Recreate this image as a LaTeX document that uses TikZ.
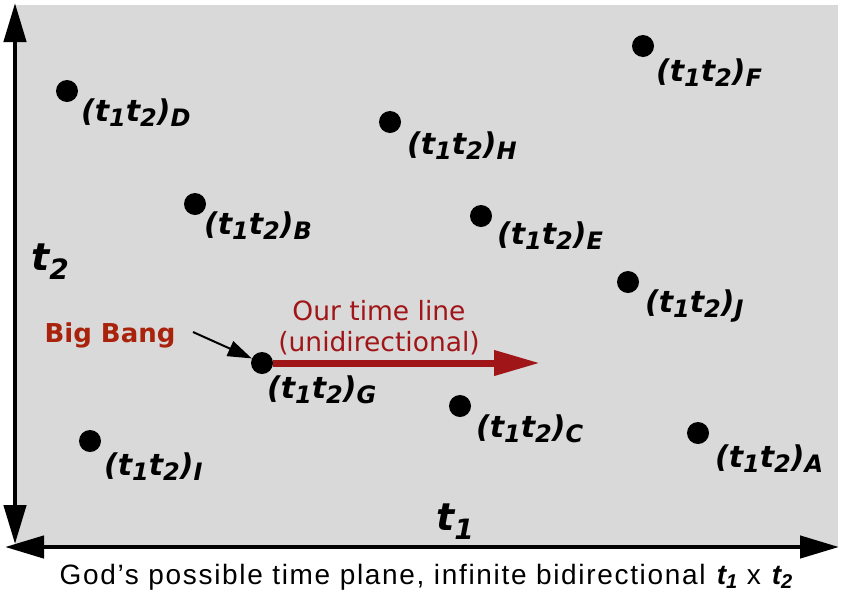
\documentclass[tikz,border=0pt]{standalone}
\usepackage{fontspec}
\setmainfont{DejaVu Sans}
\newfontfamily\capfont[LetterSpace=6]{Liberation Sans}
\usetikzlibrary{arrows.meta,positioning}
\definecolor{PlaneGray}{RGB}{217,217,217}
\definecolor{BangRed}{RGB}{168,34,12}
\definecolor{LineRed}{RGB}{160,22,24}
\definecolor{Ink}{RGB}{0,0,0}
\newcommand\lsub[1]{\raisebox{-5pt}{\fontsize{24}{24}\selectfont #1}}
\newcommand\pairlab[1]{(t\lsub{1}t\lsub{2})\lsub{#1}}
\newcommand\axsub[1]{\raisebox{-9pt}{\fontsize{28}{28}\selectfont #1}}
\newcommand\capsub[1]{\raisebox{-4pt}{\fontsize{20}{20}\selectfont #1}}
\tikzset{
  event/.style={circle,fill=Ink,minimum size=22pt,inner sep=0pt},
  evlabel/.style={inner sep=0pt,font=\fontsize{30}{31}\selectfont\bfseries\itshape},
  axislabel/.style={inner sep=0pt,font=\fontsize{38}{40}\selectfont\bfseries\itshape},
  axis/.style={{Triangle[length=39pt,width=22pt]}-{Triangle[length=39pt,width=22pt]},line width=4.5pt,draw=Ink},
  timeline/.style={-{Triangle[length=46pt,width=24pt]},line width=7pt,draw=LineRed},
  pointer/.style={-{Triangle[length=24pt,width=16pt]},line width=2pt,draw=Ink},
  bang/.style={font=\fontsize{26}{27}\selectfont\bfseries,text=BangRed},
  note/.style={font=\fontsize{26.5}{31}\selectfont,text=LineRed,align=center},
  caption/.style={font=\capfont\fontsize{28}{29}\selectfont}
}
\begin{document}
\begin{tikzpicture}[x=1pt,y=-1pt]
  \useasboundingbox (0,0) rectangle (842,595);
  \fill[PlaneGray] (15,5) rectangle (838,547);
  % axes
  \coordinate (vtop) at (15,3);
  \coordinate (vbot) at (15,544);
  \coordinate (hleft) at (5,547);
  \coordinate (hright) at (839,547);
  \draw[axis] (vtop) -- (vbot);
  \draw[axis] (hleft) -- (hright);
  \node[axislabel] (t2) at (50,262) {t\axsub{2}};
  \node[axislabel] (t1) at (455,522) {t\axsub{1}};
  % events in the plane
  \node[event] (D) at (67,91) {};
  \node[event] (F) at (643,46) {};
  \node[event] (H) at (390,122) {};
  \node[event] (B) at (195,204) {};
  \node[event] (E) at (481,216) {};
  \node[event] (J) at (628,282) {};
  \node[event] (G) at (262,363) {};
  \node[event] (C) at (460,406) {};
  \node[event] (A) at (698,433) {};
  \node[event] (I) at (90,441) {};
  \node[evlabel,below right=0pt and 6pt of D] (labD) {\pairlab{D}};
  \node[evlabel,below right=5pt and 5pt of F] (labF) {\pairlab{F}};
  \node[evlabel,below right=2pt and 9pt of H] (labH) {\pairlab{H}};
  \node[evlabel,below right=0pt and 1pt of B] (labB) {\pairlab{B}};
  \node[evlabel,below right=-2pt and 8pt of E] (labE) {\pairlab{E}};
  \node[evlabel,below right=0pt and 9pt of J] (labJ) {\pairlab{J}};
  \node[evlabel,below right=5pt and -3pt of G] (labG) {\pairlab{G}};
  \node[evlabel,below right=1pt and 8pt of C] (labC) {\pairlab{C}};
  \node[evlabel,below right=4pt and 9pt of A] (labA) {\pairlab{A}};
  \node[evlabel,below right=4pt and 6pt of I] (labI) {\pairlab{I}};
  % our time line
  \coordinate (tlend) at (540,363);
  \draw[timeline] (G) -- (tlend);
  \node[note] (ourline) at (379,328) {Our time line\\(unidirectional)};
  \node[bang] (bigbang) at (110,335) {Big Bang};
  \draw[pointer] ([xshift=14pt,yshift=3pt]bigbang.east) -- (G);
  \node[caption,anchor=base] (cap) at (426,584) {God’s possible time plane, infinite bidirectional \textbf{\textit{t\capsub{1}}} x \textbf{\textit{t\capsub{2}}}};
\end{tikzpicture}
\end{document}
